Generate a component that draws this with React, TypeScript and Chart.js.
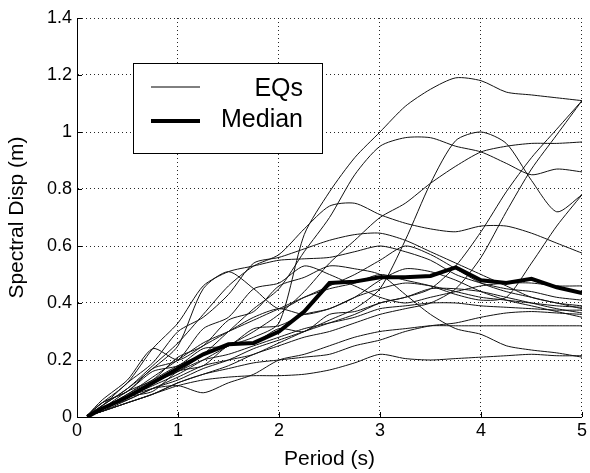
import React, { useEffect, useRef } from "react";
import { Chart, registerables } from "chart.js";

Chart.register(...registerables);

// Periods (s) shared by all series
const periods = [0.1, 0.25, 0.5, 0.75, 1, 1.25, 1.5, 1.75, 2, 2.25, 2.5, 2.75, 3, 3.25, 3.5, 3.75, 4, 4.25, 4.5, 4.75, 5];

// Median spectral displacement (m)
const median = [0.0, 0.03, 0.07, 0.12, 0.17, 0.22, 0.255, 0.26, 0.3, 0.37, 0.47, 0.475, 0.49, 0.49, 0.495, 0.525, 0.48, 0.47, 0.485, 0.455, 0.435];

// Individual earthquake records (m)
const eq01 = [0.005, 0.03, 0.08, 0.13, 0.18, 0.22, 0.25, 0.28, 0.33, 0.64, 0.79, 0.91, 1.0, 1.09, 1.15, 1.19, 1.18, 1.14, 1.13, 1.12, 1.11];
const eq02 = [0.005, 0.02, 0.06, 0.1, 0.14, 0.18, 0.2, 0.22, 0.26, 0.3, 0.34, 0.38, 0.45, 0.62, 0.82, 0.97, 1.0, 0.96, 0.83, 0.72, 0.78];
const eq03 = [0.005, 0.03, 0.07, 0.12, 0.16, 0.22, 0.3, 0.38, 0.45, 0.58, 0.7, 0.85, 0.95, 0.98, 0.98, 0.95, 0.93, 0.89, 0.85, 0.87, 0.86];
const eq04 = [0.005, 0.03, 0.07, 0.11, 0.15, 0.2, 0.25, 0.3, 0.36, 0.44, 0.54, 0.62, 0.7, 0.75, 0.82, 0.88, 0.93, 0.95, 0.96, 0.96, 0.965];
const eq05 = [0.005, 0.04, 0.1, 0.18, 0.26, 0.36, 0.46, 0.53, 0.57, 0.66, 0.74, 0.75, 0.71, 0.68, 0.66, 0.65, 0.67, 0.67, 0.645, 0.61, 0.575];
const eq06 = [0.005, 0.04, 0.1, 0.17, 0.25, 0.45, 0.51, 0.45, 0.38, 0.42, 0.46, 0.5, 0.55, 0.6, 0.57, 0.52, 0.47, 0.44, 0.42, 0.4, 0.39];
const eq07 = [0.005, 0.03, 0.06, 0.1, 0.13, 0.17, 0.2, 0.24, 0.27, 0.3, 0.33, 0.36, 0.4, 0.42, 0.45, 0.53, 0.65, 0.79, 0.91, 1.01, 1.11];
const eq08 = [0.005, 0.02, 0.05, 0.08, 0.12, 0.15, 0.18, 0.22, 0.25, 0.28, 0.3, 0.33, 0.36, 0.38, 0.4, 0.45, 0.56, 0.72, 0.87, 0.99, 1.11];
const eq09 = [0.005, 0.03, 0.08, 0.14, 0.2, 0.26, 0.3, 0.34, 0.38, 0.42, 0.45, 0.47, 0.5, 0.48, 0.46, 0.43, 0.41, 0.42, 0.54, 0.67, 0.78];
const eq10 = [0.005, 0.05, 0.12, 0.24, 0.33, 0.46, 0.51, 0.53, 0.55, 0.555, 0.56, 0.58, 0.6, 0.58, 0.55, 0.5, 0.47, 0.45, 0.44, 0.42, 0.41];
const eq11 = [0.005, 0.04, 0.12, 0.19, 0.3, 0.35, 0.43, 0.54, 0.56, 0.59, 0.62, 0.64, 0.645, 0.62, 0.58, 0.54, 0.5, 0.46, 0.42, 0.4, 0.38];
const eq12 = [0.005, 0.03, 0.09, 0.13, 0.21, 0.25, 0.34, 0.37, 0.46, 0.49, 0.53, 0.52, 0.5, 0.43, 0.36, 0.31, 0.29, 0.25, 0.235, 0.225, 0.21];
const eq13 = [0.005, 0.02, 0.05, 0.08, 0.11, 0.13, 0.14, 0.145, 0.145, 0.15, 0.165, 0.19, 0.22, 0.205, 0.2, 0.205, 0.21, 0.215, 0.22, 0.215, 0.215];
const eq14 = [0.005, 0.03, 0.07, 0.1, 0.11, 0.085, 0.12, 0.15, 0.2, 0.22, 0.25, 0.28, 0.3, 0.31, 0.32, 0.32, 0.32, 0.32, 0.32, 0.32, 0.32];
const eq15 = [0.005, 0.02, 0.05, 0.08, 0.12, 0.15, 0.17, 0.19, 0.2, 0.21, 0.22, 0.25, 0.27, 0.3, 0.32, 0.33, 0.35, 0.365, 0.37, 0.365, 0.36];
const eq16 = [0.005, 0.06, 0.13, 0.24, 0.2, 0.25, 0.3, 0.35, 0.38, 0.36, 0.38, 0.42, 0.45, 0.47, 0.46, 0.44, 0.42, 0.41, 0.4, 0.39, 0.385];
const eq17 = [0.005, 0.05, 0.09, 0.17, 0.2, 0.31, 0.35, 0.45, 0.47, 0.53, 0.5, 0.46, 0.42, 0.4, 0.42, 0.44, 0.46, 0.47, 0.47, 0.46, 0.46];
const eq18 = [0.005, 0.05, 0.09, 0.16, 0.18, 0.24, 0.25, 0.31, 0.32, 0.36, 0.38, 0.42, 0.48, 0.52, 0.51, 0.48, 0.44, 0.41, 0.39, 0.37, 0.35];
const eq19 = [0.005, 0.02, 0.07, 0.09, 0.16, 0.18, 0.25, 0.26, 0.31, 0.3, 0.36, 0.37, 0.4, 0.42, 0.45, 0.45, 0.44, 0.42, 0.4, 0.38, 0.365];
const eq20 = [0.005, 0.03, 0.07, 0.12, 0.16, 0.2, 0.22, 0.25, 0.28, 0.31, 0.33, 0.35, 0.38, 0.39, 0.4, 0.4, 0.39, 0.385, 0.38, 0.375, 0.375];

const eqRecords = [eq01, eq02, eq03, eq04, eq05, eq06, eq07, eq08, eq09, eq10, eq11, eq12, eq13, eq14, eq15, eq16, eq17, eq18, eq19, eq20];

// Axis ticks
const xTicks = [0, 1, 2, 3, 4, 5];
const xTickLabels = ["0", "1", "2", "3", "4", "5"];
const yTicks = [0, 0.2, 0.4, 0.6, 0.8, 1.0, 1.2, 1.4];
const yTickLabels = ["0", "0.2", "0.4", "0.6", "0.8", "1", "1.2", "1.4"];

const FONT = '"Liberation Sans", Arial, Helvetica, sans-serif';

const toPoints = (ys: number[]) => ys.map((y, i) => ({ x: periods[i], y }));

const overlayPlugin = {
  id: "overlay",
  afterDatasetsDraw(chart: any) {
    const { ctx, chartArea, scales } = chart;
    ctx.save();
    // inward tick marks (MATLAB style)
    ctx.strokeStyle = "#000";
    ctx.lineWidth = 1;
    xTicks.forEach((v) => {
      const x = Math.round(scales.x.getPixelForValue(v)) + 0.5;
      ctx.beginPath();
      ctx.moveTo(x, chartArea.bottom);
      ctx.lineTo(x, chartArea.bottom - 5);
      ctx.stroke();
    });
    yTicks.forEach((v) => {
      const y = Math.round(scales.y.getPixelForValue(v)) + 0.5;
      ctx.beginPath();
      ctx.moveTo(chartArea.left, y);
      ctx.lineTo(chartArea.left + 5, y);
      ctx.stroke();
    });

    // legend box
    const bx = chartArea.left + 56;
    const by = chartArea.top + 45;
    const bw = 189;
    const bh = 90;
    ctx.fillStyle = "#fff";
    ctx.fillRect(bx, by, bw, bh);
    ctx.strokeStyle = "#000";
    ctx.lineWidth = 1;
    ctx.strokeRect(bx + 0.5, by + 0.5, bw, bh);

    ctx.beginPath();
    ctx.moveTo(bx + 18, by + 24);
    ctx.lineTo(bx + 67, by + 24);
    ctx.stroke();

    ctx.lineWidth = 4;
    ctx.beginPath();
    ctx.moveTo(bx + 18, by + 58);
    ctx.lineTo(bx + 67, by + 58);
    ctx.stroke();

    ctx.fillStyle = "#000";
    ctx.font = `25px ${FONT}`;
    ctx.textAlign = "right";
    ctx.textBaseline = "middle";
    ctx.fillText("EQs", bx + 170, by + 26);
    ctx.fillText("Median", bx + 170, by + 57);
    ctx.restore();
  },
};

export default function App() {
  const canvasRef = useRef<HTMLCanvasElement | null>(null);

  useEffect(() => {
    if (!canvasRef.current) return;
    const datasets: any[] = [
      {
        label: "Median",
        data: toPoints(median),
        borderColor: "#000",
        borderWidth: 4,
        pointRadius: 0,
        tension: 0,
        fill: false,
      },
      ...eqRecords.map((rec, i) => ({
        label: i === 0 ? "EQs" : `EQ ${i + 1}`,
        data: toPoints(rec),
        borderColor: "#111",
        borderWidth: 1,
        pointRadius: 0,
        tension: 0.25,
        fill: false,
      })),
    ];

    const chart = new Chart(canvasRef.current, {
      type: "line",
      data: { datasets },
      plugins: [overlayPlugin],
      options: {
        animation: false,
        responsive: true,
        maintainAspectRatio: false,
        layout: { padding: { left: 0, top: 18, right: 3, bottom: 0 } },
        plugins: {
          legend: { display: false },
          tooltip: { enabled: false },
        },
        scales: {
          x: {
            type: "linear",
            min: 0,
            max: 5,
            afterFit: (axis: any) => {
              axis.height = 56;
            },
            afterBuildTicks: (axis: any) => {
              axis.ticks = xTicks.map((v) => ({ value: v }));
            },
            ticks: {
              color: "#000",
              font: { family: FONT, size: 18 },
              padding: 3,
              maxRotation: 0,
              autoSkip: false,
              callback: (_v: any, i: number) => xTickLabels[i],
            },
            grid: {
              color: "rgba(0,0,0,0.85)",
              lineWidth: 1,
              drawTicks: false,
            },
            border: { display: true, color: "#000", width: 1, dash: [1, 3] },
            title: {
              display: true,
              text: "Period (s)",
              color: "#000",
              font: { family: FONT, size: 21 },
              padding: { top: 0, bottom: 1 },
            },
          },
          y: {
            type: "linear",
            min: 0,
            max: 1.4,
            afterFit: (axis: any) => {
              axis.width = 77;
            },
            afterBuildTicks: (axis: any) => {
              axis.ticks = yTicks.map((v) => ({ value: v }));
            },
            ticks: {
              color: "#000",
              font: { family: FONT, size: 18 },
              padding: 5,
              autoSkip: false,
              callback: (_v: any, i: number) => yTickLabels[i],
            },
            grid: {
              color: "rgba(0,0,0,0.85)",
              lineWidth: 1,
              drawTicks: false,
            },
            border: { display: true, color: "#000", width: 1, dash: [1, 3] },
            title: {
              display: true,
              text: "Spectral Disp (m)",
              color: "#000",
              font: { family: FONT, size: 21 },
              padding: { top: 5, bottom: 0 },
            },
          },
        },
      } as any,
    });
    return () => chart.destroy();
  }, []);

  return (
    <div style={{ position: "fixed", left: 0, top: 0, width: 590, height: 473, background: "#fff" }}>
      <canvas ref={canvasRef} />
    </div>
  );
}
